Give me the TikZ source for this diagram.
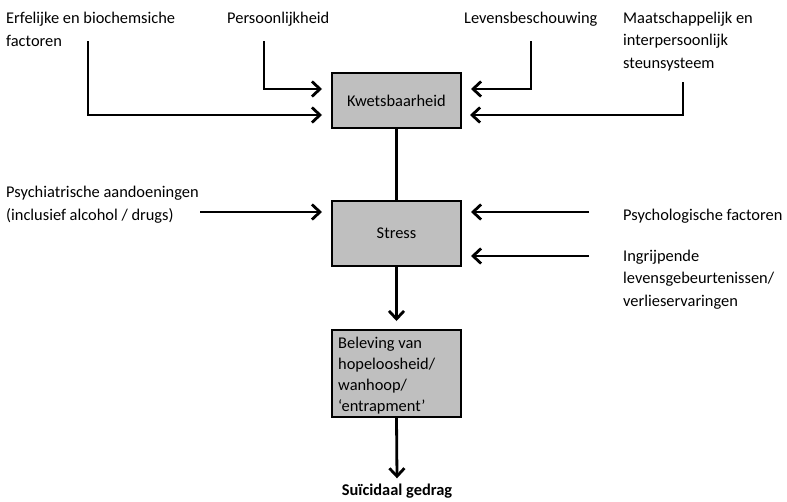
\documentclass[tikz,border=0pt]{standalone}
\usepackage{fontspec}
\setmainfont{Carlito}
\usetikzlibrary{arrows.meta}
\newcommand{\txtfont}{\fontsize{16.4}{22.5}\selectfont}
\tikzset{
  box/.style={draw=black, line width=2pt, fill=boxgray, minimum width=129pt, inner sep=0pt},
  lbl/.style={anchor=base west, inner sep=0pt, align=left, font=\txtfont},
  conn/.style={line width=2.8pt, line cap=butt, line join=miter},
  arr/.style={conn, -{Straight Barb[length=8pt, width=15pt, line width=2.8pt]}},
}
\definecolor{boxgray}{RGB}{191,191,191}
\begin{document}
\begin{tikzpicture}[x=1pt, y=-1pt]
\useasboundingbox (0,0) rectangle (787,501);
% boxes
\node[box, minimum height=55pt, font=\txtfont] (kw) at (396.5,100.5) {Kwetsbaarheid};
\node[box, minimum height=65pt, font=\txtfont] (st) at (396.5,233.5) {Stress};
\node[box, minimum height=87pt] (bel) at (396.5,373.5) {};
\node[lbl, font=\fontsize{16.4}{21}\selectfont] (beltxt) at (338,411) {Beleving van\\hopeloosheid/\\wanhoop/\\‘entrapment’};
% labels (anchored at baseline of last line)
\node[lbl] (erf) at (6,46) {Erfelijke en biochemsiche\\factoren};
\node[lbl] (per) at (227,23) {Persoonlijkheid};
\node[lbl] (lev) at (464,23) {Levensbeschouwing};
\node[lbl] (maa) at (623,68) {Maatschappelijk en\\interpersoonlijk\\steunsysteem};
\node[lbl] (psy) at (6,220) {Psychiatrische aandoeningen\\(inclusief alcohol / drugs)};
\node[lbl] (pso) at (623,220) {Psychologische factoren};
\node[lbl] (ing) at (623,306) {Ingrijpende\\levensgebeurtenissen/\\verlieservaringen};
\node[anchor=base, inner sep=0pt, font=\txtfont\bfseries] (sui) at (397,495) {Suïcidaal gedrag};
% coordinates
\coordinate (erfS) at (88,41);
\coordinate (perS) at (264,41);
\coordinate (levS) at (531,41);
\coordinate (maaS) at (683,82);
\coordinate (psyS) at (200,212);
\coordinate (psoS) at (589,212);
\coordinate (ingS) at (589,256);
% connectors into Kwetsbaarheid
\draw[arr] (erfS) |- ([xshift=-9pt]kw.west |- 0,115);
\draw[arr] (perS) |- ([xshift=-9pt]kw.west |- 0,89);
\draw[arr] (levS) |- ([xshift=9pt]kw.east |- 0,89);
\draw[arr] (maaS) |- ([xshift=8pt]kw.east |- 0,115);
% spine
\draw[conn] (kw.south) -- (st.north);
\draw[arr] (st.south) -- ([yshift=8pt]bel.north);
\draw[arr] (bel.south) -- ([yshift=5pt]sui.north);
% into Stress
\draw[arr] (psyS) -- ([xshift=-9pt]st.west |- psyS);
\draw[arr] (psoS) -- ([xshift=9pt]st.east |- psoS);
\draw[arr] (ingS) -- ([xshift=9pt]st.east |- ingS);
\end{tikzpicture}
\end{document}
